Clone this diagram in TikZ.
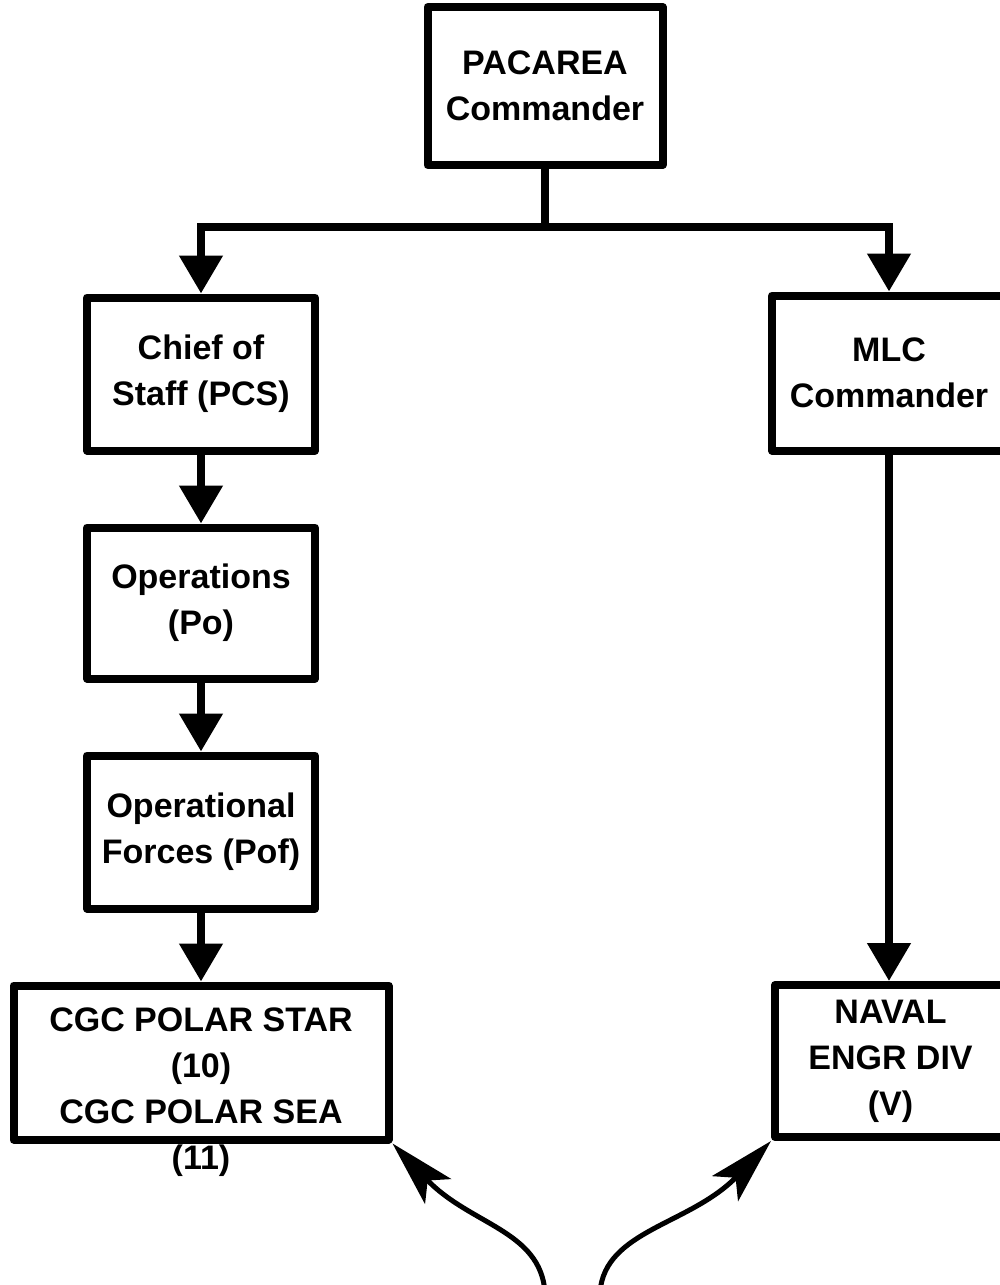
\documentclass[tikz,border=0pt]{standalone}
\usepackage{fontspec}
\setmainfont{Liberation Sans}
\usetikzlibrary{positioning,arrows.meta}
\tikzset{%
unit/.style={draw,rectangle,line width=4pt,line join=round,align=center,
  minimum width=114pt,minimum height=76.5pt,inner sep=0pt,
  font=\fontsize{17}{23}\selectfont\bfseries},
wire/.style={line width=4pt},
flow/.style={wire,-{Triangle[width=21pt,length=19pt]}},
pointer/.style={line width=2.5pt,-{Stealth[length=33pt,width=18pt,inset=7.5pt]}},
unittext/.style={align=center,inner sep=0pt,font=\fontsize{17}{23}\selectfont\bfseries}
}
\begin{document}
\begin{tikzpicture}[x=0.5pt,y=-0.5pt,node distance=34.5pt]
    \useasboundingbox (0,0) rectangle (1000,1285);

    \node[unit,minimum width=117.5pt,minimum height=79pt] (pacarea) at (545,86) {PACAREA\\Commander};
    \node[unit] (chief) at (201,374) {Chief of\\Staff (PCS)};
    \node[unit,minimum height=75.5pt] (ops) [below=of chief] {Operations\\(Po)};
    \node[unit] (opforces) [below=of ops] {Operational\\Forces (Pof)};
    \node[unit,minimum width=187.5pt,minimum height=77pt] (polar) [below=of opforces] {};
    \node[unittext,anchor=north] (polartext) at ([yshift=-13pt]polar.north) {CGC POLAR STAR\\(10)\\CGC POLAR SEA\\(11)};
    \node[unit,minimum width=117pt,minimum height=77.5pt] (mlc) at (889,373) {MLC\\Commander};
    \node[unit,minimum width=115.5pt,minimum height=76pt] (naval) at (890.5,1061) {NAVAL\\ENGR DIV\\(V)};

    \coordinate (bus) at (545,227);
    \coordinate (srcl) at (545,1292);
    \coordinate (srcr) at (600,1292);

    \draw[wire] (pacarea) -- (bus);
    \draw[flow] (bus) -| (chief);
    \draw[flow] (bus) -| (mlc);
    \draw[flow] (chief) -- (ops);
    \draw[flow] (ops) -- (opforces);
    \draw[flow] (opforces) -- (polar);
    \draw[flow] (mlc.south) -- (mlc.south |- naval.north);

    \draw[pointer] (srcl) .. controls (540,1230) and (470,1225) .. (polar.south east);
    \draw[pointer] (srcr) .. controls (605,1230) and (690,1225) .. (naval.south west);

\end{tikzpicture}
\end{document}
